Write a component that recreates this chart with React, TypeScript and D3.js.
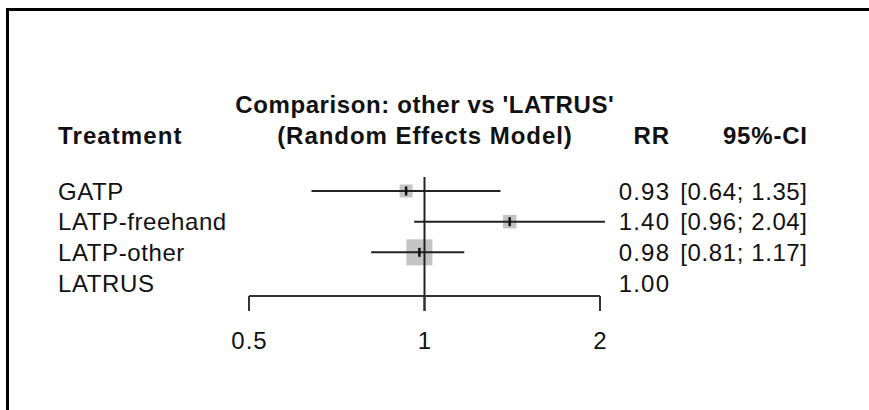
import React from "react";
import * as d3 from "d3";

// Network meta-analysis forest plot: relative risk of each treatment vs LATRUS
const treatments = ["GATP", "LATP-freehand", "LATP-other", "LATRUS"];
const rr = [0.93, 1.4, 0.98, 1.0];
const lower = [0.64, 0.96, 0.81, null];
const upper = [1.35, 2.04, 1.17, null];
// relative weight of each comparison (box area scales with it)
const boxWeight = [0.25, 0.27, 1, null];
const axisTicks = [0.5, 1, 2];
const axisTickLabels = ["0.5", "1", "2"];

const W = 869;
const H = 410;
const FONT = "'Liberation Sans', Arial, Helvetica, sans-serif";
const FS = 24;

type Anchor = "start" | "middle" | "end";

// text with extra tracking; anchor offset compensates the trailing spacing
function Label(props: {
  x: number;
  y: number;
  anchor?: Anchor;
  spacing: number;
  bold?: boolean;
  children: React.ReactNode;
}) {
  const { x, y, anchor = "start", spacing, bold, children } = props;
  const shift = anchor === "end" ? spacing : anchor === "middle" ? spacing / 2 : 0;
  return (
    <text
      x={x + shift}
      y={y}
      textAnchor={anchor}
      fontSize={FS}
      fontWeight={bold ? "bold" : "normal"}
      letterSpacing={spacing}
      fill="#111"
    >
      {children}
    </text>
  );
}

export default function App() {
  const x = d3.scaleLog().domain([0.5, 2]).range([249, 600]);
  const rowY = d3.scalePoint<string>().domain(treatments).range([191, 283]);
  const box = d3.scaleSqrt().domain([0, 1]).range([0, 26]);

  const fmt2 = d3.format(".2f");
  const axisY = 296;
  const tickLen = 15;

  return (
    <svg
      width={W}
      height={H}
      style={{ position: "fixed", left: 0, top: 0, background: "#fff" }}
      fontFamily={FONT}
    >
      <rect x={0} y={0} width={W} height={H} fill="#fff" />
      {/* outer frame */}
      <rect
        x={7.5}
        y={9.5}
        width={W + 20}
        height={H + 20}
        fill="none"
        stroke="#000"
        strokeWidth={3}
      />

      {/* headers */}
      <Label x={x(1)} y={113} anchor="middle" spacing={0.6} bold>
        Comparison: other vs 'LATRUS'
      </Label>
      <Label x={x(1)} y={144} anchor="middle" spacing={0.95} bold>
        (Random Effects Model)
      </Label>
      <Label x={58} y={144} spacing={1.1} bold>
        Treatment
      </Label>
      <Label x={669} y={144} anchor="end" spacing={0.8} bold>
        RR
      </Label>
      <Label x={807} y={144} anchor="end" spacing={0.8} bold>
        95%-CI
      </Label>

      {/* weight boxes */}
      {treatments.map((t, i) => {
        const w = boxWeight[i];
        if (w == null) return null;
        const y = rowY(t) as number;
        const s = box(w);
        return (
          <rect
            key={t}
            x={x(rr[i]) - s / 2}
            y={y - s / 2}
            width={s}
            height={s}
            fill="#c4c4c4"
          />
        );
      })}

      {/* reference line at RR = 1 */}
      <line
        x1={x(1)}
        x2={x(1)}
        y1={177}
        y2={axisY + tickLen}
        stroke="#222"
        strokeWidth={2}
      />

      {/* confidence intervals, estimates and labels */}
      {treatments.map((t, i) => {
        const y = rowY(t) as number;
        const lo = lower[i];
        const hi = upper[i];
        return (
          <g key={t}>
            <Label x={58} y={y + 8.5} spacing={0.6}>
              {t}
            </Label>
            {lo != null && hi != null && (
              <>
                <line
                  x1={x(lo)}
                  x2={x(hi)}
                  y1={y}
                  y2={y}
                  stroke="#222"
                  strokeWidth={2}
                />
                <line
                  x1={x(rr[i])}
                  x2={x(rr[i])}
                  y1={y - 4.5}
                  y2={y + 4.5}
                  stroke="#111"
                  strokeWidth={2.5}
                />
              </>
            )}
            <Label x={669} y={y + 8.5} anchor="end" spacing={1.2}>
              {fmt2(rr[i])}
            </Label>
            {lo != null && hi != null && (
              <Label x={807} y={y + 8.5} anchor="end" spacing={0.6}>
                {`[${fmt2(lo)}; ${fmt2(hi)}]`}
              </Label>
            )}
          </g>
        );
      })}

      {/* x axis */}
      <g stroke="#333" strokeWidth={2} fill="none">
        <line x1={x(0.5)} x2={x(2)} y1={axisY} y2={axisY} />
        {axisTicks.map((v) => (
          <line key={v} x1={x(v)} x2={x(v)} y1={axisY} y2={axisY + tickLen} />
        ))}
      </g>
      {axisTicks.map((v, i) => (
        <Label key={v} x={x(v)} y={349} anchor="middle" spacing={1}>
          {axisTickLabels[i]}
        </Label>
      ))}
    </svg>
  );
}
